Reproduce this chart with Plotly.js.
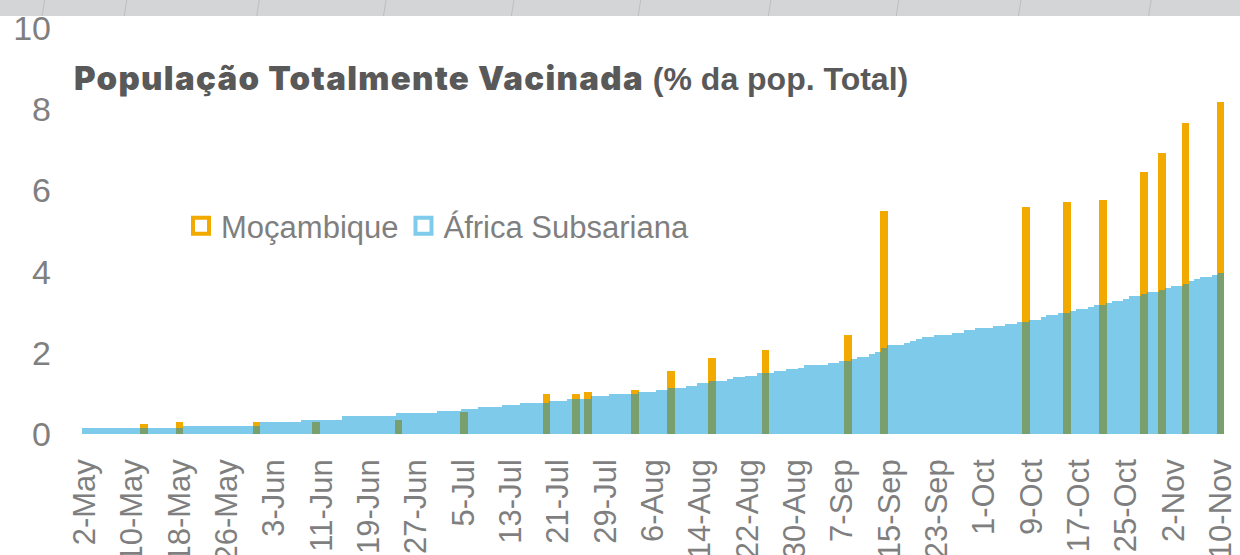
<!DOCTYPE html>
<html>
<head>
<meta charset="utf-8">
<script src="https://cdn.plot.ly/plotly-3.0.1.min.js"></script>
<style>
  html, body { margin: 0; padding: 0; background: #ffffff; }
  #chart { width: 1240px; height: 555px; }
</style>
</head>
<body>
<div id="chart"></div>
<script>
// ---------------- DATA ----------------
const seriesNames = ['Moçambique', 'África Subsariana'];
const titleMain = 'População Totalmente Vacinada';
const titleSub = '(% da pop. Total)';

// Daily series (África Subsariana), 2-May to 10-Nov, % of total population fully vaccinated
const firstDay = '2021-05-02';
const ssaValues = [
  // May (2-31)
  0.14,0.14,0.14,0.14,0.14,0.14,0.14,0.14,0.14,0.14,0.14,0.14,0.14,0.14,0.14,0.14,0.14,
  0.20,0.20,0.20,0.20,0.20,0.20,0.20,0.20,0.20,0.20,0.20,0.20,0.20,
  // Jun
  0.29,0.29,0.29,0.29,0.29,0.29,0.29,
  0.345,0.345,0.345,0.345,0.345,0.345,0.345,
  0.45,0.45,0.45,0.45,0.45,0.45,0.45,0.45,0.45,
  0.51,0.51,0.51,0.51,0.51,0.51,0.51,
  // Jul
  0.56,0.56,0.56,0.56, 0.61,0.61,0.61, 0.66,0.66,0.66,0.66, 0.71,0.71,0.71,
  0.76,0.76,0.76,0.76,0.76, 0.81,0.81,0.81, 0.87,0.87,0.87,0.87, 0.93,0.93,0.93,
  0.985,0.985,
  // Aug
  0.985,0.985,0.985, 1.03,1.03,1.03, 1.08,1.08, 1.13,1.13,1.13, 1.18,1.18,
  1.25,1.25, 1.30,1.30,1.30, 1.35, 1.40,1.40, 1.44,1.44, 1.50,1.50,1.50,
  1.55,1.55, 1.60,1.60, 1.63,
  // Sep
  1.69,1.69,1.69,1.69, 1.74,1.74, 1.80,1.80, 1.85, 1.90,1.90, 1.97, 2.03, 2.13,
  2.18,2.18,2.18, 2.23, 2.29, 2.34, 2.40,2.40, 2.45,2.45,2.45, 2.50,2.50,
  2.55,2.55, 2.61,
  // Oct
  2.61,2.61, 2.66,2.66, 2.71,2.71, 2.76,2.76, 2.82,2.82, 2.87, 2.92,2.92,
  2.98,2.98, 3.03, 3.09,3.09, 3.14, 3.18,3.18, 3.23, 3.28,3.28, 3.33,
  3.39,3.39, 3.45, 3.50,3.50, 3.55,
  // Nov (1-10)
  3.60, 3.65,3.65, 3.70, 3.76, 3.81, 3.86,3.86, 3.92, 3.97
];

// Moçambique (reported on selected days)
const mozDates = [
  '2021-05-12','2021-05-18','2021-05-31','2021-06-10','2021-06-24','2021-07-05',
  '2021-07-19','2021-07-24','2021-07-26','2021-08-03','2021-08-09','2021-08-16',
  '2021-08-25','2021-09-08','2021-09-14','2021-10-08','2021-10-15','2021-10-21',
  '2021-10-28','2021-10-31','2021-11-04','2021-11-10'
];
const mozValues = [
  0.25, 0.30, 0.30, 0.29, 0.345, 0.55,
  0.98, 0.98, 1.03, 1.08, 1.55, 1.86,
  2.08, 2.44, 5.49, 5.60, 5.71, 5.76,
  6.45, 6.91, 7.65, 8.18
];

const yTicks = [0, 2, 4, 6, 8, 10];

// ---------------- BUILD ----------------
const DAY = 86400000;
function dayList(start, n) {
  const out = [];
  const t0 = Date.parse(start + 'T00:00:00Z');
  for (let i = 0; i < n; i++) {
    out.push(new Date(t0 + i * DAY).toISOString().slice(0, 10));
  }
  return out;
}
const ssaDates = dayList(firstDay, ssaValues.length);

const ORANGE = '#F2A900';
const BLUE = '#0097D9';
const GREY = '#7f7f7f';
const SANS = "'Liberation Sans', Arial, sans-serif";

const traces = [
  {
    type: 'bar', name: seriesNames[0], x: mozDates, y: mozValues,
    width: 1.3 * DAY, marker: { color: ORANGE, line: { width: 0 } },
    showlegend: false, hoverinfo: 'x+y'
  },
  {
    type: 'bar', name: seriesNames[1], x: ssaDates, y: ssaValues,
    width: DAY, marker: { color: BLUE, line: { width: 0 } }, opacity: 0.5,
    showlegend: false, hoverinfo: 'x+y'
  },
  {
    type: 'scatter', mode: 'markers', name: seriesNames[0], x: [null], y: [null],
    marker: { symbol: 'square-open', size: 16, color: ORANGE, line: { width: 4, color: ORANGE } },
    showlegend: true, hoverinfo: 'skip'
  },
  {
    type: 'scatter', mode: 'markers', name: seriesNames[1], x: [null], y: [null],
    marker: { symbol: 'square-open', size: 16, color: '#7fcbec', line: { width: 4, color: '#7fcbec' } },
    showlegend: true, hoverinfo: 'skip'
  }
];

const bandShapes = [{
  type: 'rect', xref: 'paper', yref: 'paper', x0: -0.1, x1: 1.1, y0: 1.0296, y1: 1.1,
  fillcolor: '#d4d5d7', line: { width: 0 }, layer: 'below'
}];
[ -0.035, 0.037, 0.153, 0.264, 0.376, 0.487, 0.601, 0.713, 0.820, 0.934 ].forEach(function (px) {
  bandShapes.push({
    type: 'line', xref: 'paper', yref: 'paper', x0: px, x1: px + 0.004, y0: 1.0296, y1: 1.1,
    line: { color: '#bdbec0', width: 1 }, layer: 'below'
  });
});

const layout = {
  width: 1240, height: 555,
  margin: { l: 82, r: 16, t: 28, b: 121, pad: 0 },
  paper_bgcolor: '#ffffff', plot_bgcolor: '#ffffff',
  barmode: 'overlay',
  bargap: 0,
  showlegend: true,
  legend: {
    orientation: 'h', x: 0.0867, xanchor: 'left', y: 0.512, yanchor: 'middle',
    bgcolor: 'rgba(0,0,0,0)', borderwidth: 0,
    font: { family: SANS, size: 31, color: GREY },
    itemwidth: 30, traceorder: 'normal'
  },
  xaxis: {
    type: 'date',
    range: ['2021-05-01 12:00', '2021-11-10 12:00'],
    tick0: firstDay, dtick: 8 * DAY, tickformat: '%-d-%b',
    tickangle: -90,
    tickfont: { family: SANS, size: 31, color: GREY },
    showgrid: false, zeroline: false, showline: false, ticks: '',
    ticklabelstandoff: 18, ticklabeloverflow: 'allow',
    automargin: false, fixedrange: true
  },
  yaxis: {
    range: [0, 10], tickvals: yTicks, ticktext: yTicks.map(String),
    tickfont: { family: SANS, size: 34, color: GREY },
    showgrid: false, zeroline: false, showline: false, ticks: '',
    ticklabelstandoff: 30, automargin: false, fixedrange: true
  },
  shapes: bandShapes,
  annotations: [{
    xref: 'paper', yref: 'paper', x: -0.0088, y: 0.877, xanchor: 'left', yanchor: 'middle',
    showarrow: false, align: 'left',
    text: '<span style="font-family:Inter, \'DejaVu Sans\', sans-serif;font-weight:900;font-size:33px;letter-spacing:1.3px">' +
          titleMain + '</span><b> ' + titleSub + '</b>',
    font: { family: SANS, size: 32, color: '#595959' }
  }]
};

Plotly.newPlot('chart', traces, layout, { staticPlot: true, displayModeBar: false });
</script>
</body>
</html>
